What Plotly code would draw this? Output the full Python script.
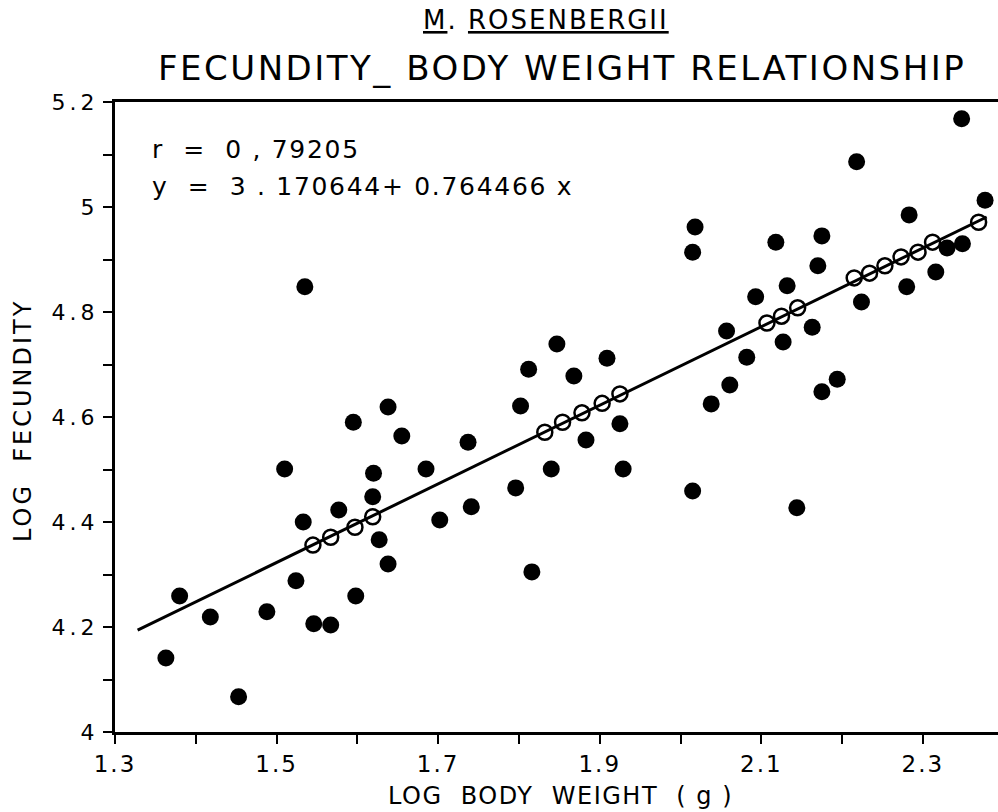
import plotly.graph_objects as go

# Observed points (log body weight, log fecundity)
obs_x = [1.363, 1.380, 1.418, 1.453, 1.488, 1.510, 1.524, 1.533, 1.535, 1.546,
         1.567, 1.577, 1.595, 1.598, 1.619, 1.620, 1.627, 1.638, 1.638, 1.655,
         1.685, 1.702, 1.737, 1.741, 1.796, 1.802, 1.812, 1.816, 1.840, 1.847,
         1.868, 1.883, 1.909, 1.925, 1.929, 2.015, 2.015, 2.018, 2.038, 2.057,
         2.061, 2.082, 2.093, 2.118, 2.127, 2.132, 2.144, 2.163, 2.170, 2.175,
         2.175, 2.194, 2.218, 2.224, 2.280, 2.283, 2.316, 2.330, 2.348, 2.349,
         2.377]
obs_y = [4.141, 4.259, 4.219, 4.067, 4.229, 4.501, 4.288, 4.400, 4.848, 4.206,
         4.204, 4.423, 4.590, 4.259, 4.448, 4.493, 4.366, 4.320, 4.619, 4.564,
         4.501, 4.404, 4.552, 4.429, 4.465, 4.621, 4.691, 4.305, 4.501, 4.739,
         4.678, 4.556, 4.712, 4.587, 4.501, 4.459, 4.914, 4.962, 4.625, 4.764,
         4.661, 4.714, 4.829, 4.933, 4.743, 4.850, 4.427, 4.771, 4.888, 4.945,
         4.648, 4.672, 5.086, 4.819, 4.848, 4.985, 4.876, 4.922, 5.168, 4.930,
         5.013]

# Fitted (predicted) points shown as open circles
fit_x = [1.545, 1.567, 1.597, 1.619, 1.832, 1.854, 1.878, 1.903, 1.925,
         2.107, 2.125, 2.145, 2.215, 2.234, 2.253, 2.273, 2.294, 2.312, 2.369]
fit_y = [4.356, 4.371, 4.390, 4.410, 4.571, 4.590, 4.608, 4.626, 4.644,
         4.779, 4.792, 4.808, 4.865, 4.874, 4.888, 4.905, 4.914, 4.933, 4.971]

# Regression line end points
line_x = [1.328, 2.379]
line_y = [4.194, 4.981]

x_ticks = [1.3, 1.4, 1.5, 1.6, 1.7, 1.8, 1.9, 2.0, 2.1, 2.2, 2.3]
x_labels = ["1.3", "", "1.5", "", "1.7", "", "1.9", "", "2.1", "", "2.3"]
y_ticks = [4.0, 4.1, 4.2, 4.3, 4.4, 4.5, 4.6, 4.7, 4.8, 4.9, 5.0, 5.1, 5.2]
y_labels = ["4", "", "4.2", "", "4.4", "", "4.6", "", "4.8", "", "5", "", "5.2"]

FONT = "DejaVu Sans"


def spaced(s, px):
    return f'<span style="letter-spacing:{px}px">{s}</span>' if s else s


fig = go.Figure()
fig.add_trace(go.Scatter(x=line_x, y=line_y, mode="lines",
                         line=dict(color="black", width=3), showlegend=False))
fig.add_trace(go.Scatter(x=fit_x, y=fit_y, mode="markers",
                         marker=dict(symbol="circle-open", size=15, color="black",
                                     line=dict(width=2.5, color="black")),
                         showlegend=False))
fig.add_trace(go.Scatter(x=obs_x, y=obs_y, mode="markers",
                         marker=dict(symbol="circle", size=17, color="black"),
                         showlegend=False))

fig.update_layout(
    width=998, height=812,
    margin=dict(l=115, r=0, t=102, b=80),
    paper_bgcolor="white", plot_bgcolor="white",
    font=dict(family=FONT, color="black", size=22),
    xaxis=dict(range=[1.3, 2.393], tickvals=x_ticks,
               ticktext=[spaced(t, 2) for t in x_labels],
               ticks="outside", ticklen=9, tickwidth=2, tickcolor="black",
               showline=True, linewidth=3, linecolor="black", mirror=True,
               showgrid=False, zeroline=False, tickfont=dict(size=23)),
    yaxis=dict(range=[4.0, 5.2], tickvals=y_ticks,
               ticktext=[spaced(t, 4) for t in y_labels],
               ticks="outside", ticklen=9, tickwidth=2, tickcolor="black",
               showline=True, linewidth=3, linecolor="black", mirror=False,
               showgrid=False, zeroline=False, tickfont=dict(size=22)),
    annotations=[
        dict(text=spaced("<u>M</u>. <u>ROSENBERGII</u>", 2), xref="paper", yref="paper",
             x=(546 - 115) / 883, y=1, yshift=82, xanchor="center", yanchor="middle",
             showarrow=False, font=dict(size=26)),
        dict(text=spaced("FECUNDITY_ BODY WEIGHT RELATIONSHIP", 2.5), xref="paper",
             yref="paper", x=(562 - 115) / 883, y=1, yshift=34, xanchor="center",
             yanchor="middle", showarrow=False, font=dict(size=34)),
        dict(text=spaced("LOG  BODY  WEIGHT  ( g )", 1.5), xref="paper", yref="paper",
             x=(560 - 115) / 883, y=0, yshift=-64, xanchor="center", yanchor="middle",
             showarrow=False, font=dict(size=24)),
        dict(text=spaced("LOG  FECUNDITY", 3), xref="paper", yref="paper", textangle=-90,
             x=0, xshift=-92, y=(732 - 421) / 630, xanchor="center", yanchor="middle",
             showarrow=False, font=dict(size=24)),
        dict(text=spaced("r  =  0 , 79205", 1.7), xref="paper", yref="paper",
             x=(150 - 115) / 883, y=(732 - 150) / 630, xanchor="left", yanchor="middle",
             showarrow=False, font=dict(size=25)),
        dict(text=spaced("y  =  3 . 170644+ 0.764466 x", 1.7), xref="paper", yref="paper",
             x=(150 - 115) / 883, y=(732 - 186) / 630, xanchor="left", yanchor="middle",
             showarrow=False, font=dict(size=25)),
    ],
)

fig.write_html("out.html")
